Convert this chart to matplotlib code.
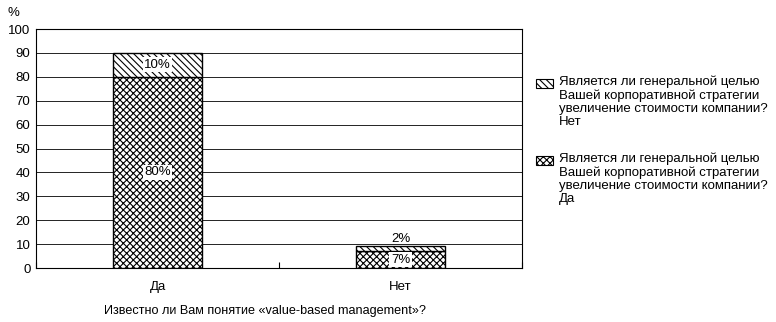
import matplotlib.pyplot as plt
import matplotlib as mpl
from matplotlib.patches import Rectangle

mpl.rcParams['font.family'] = ['Liberation Sans', 'DejaVu Sans']
mpl.rcParams['hatch.linewidth'] = 0.8

categories = ['Да', 'Нет']
yes_values = [80, 7]
no_values = [10, 2]
yes_labels = ['80%', '7%']
no_labels = ['10%', '2%']
series_q = 'Является ли генеральной целью\nВашей корпоративной стратегии\nувеличение стоимости компании?\n'
xlabel = 'Известно ли Вам понятие «value-based management»?'

fs = 9.5
fig = plt.figure(figsize=(7.76, 3.22), dpi=100)
ax = fig.add_axes([0.0464, 0.1677, 0.6263, 0.7422])

x = list(range(len(categories)))
w = 0.37
ax.bar(x, yes_values, w, color='white', edgecolor='black', hatch='xxxxx',
       linewidth=1.0, zorder=3)
ax.bar(x, no_values, w, bottom=yes_values, color='white', edgecolor='black',
       hatch='\\\\\\\\\\', linewidth=1.0, zorder=3)

box = dict(facecolor='white', edgecolor='none', pad=1.0)
for i in x:
    ax.text(i, yes_values[i] / 2, yes_labels[i], ha='center', va='center',
            fontsize=fs, bbox=box, zorder=4)
    if no_values[i] >= 5:
        ax.text(i, yes_values[i] + no_values[i] / 2, no_labels[i], ha='center',
                va='center', fontsize=fs, bbox=box, zorder=4)
    else:
        ax.text(i, yes_values[i] + no_values[i] + 3.3, no_labels[i], ha='center',
                va='center', fontsize=fs, zorder=4)

ax.set_xlim(-0.5, 1.5)
ax.set_ylim(0, 100)
ax.set_yticks(range(0, 101, 10))
ax.yaxis.grid(True, color='black', linewidth=0.6, zorder=0)
ax.set_axisbelow(True)
ax.set_xticks([-0.5, 0.5, 1.5])
ax.set_xticklabels([])
ax.tick_params(axis='x', direction='in', length=4, width=0.8)
ax.set_xticks(x, minor=True)
ax.set_xticklabels(categories, minor=True, fontsize=fs)
ax.tick_params(axis='x', which='minor', length=0, pad=9)
ax.tick_params(axis='y', length=0, labelsize=fs, pad=4)
for s in ax.spines.values():
    s.set_linewidth(0.8)

ax.text(-0.058, 1.04, '%', transform=ax.transAxes, fontsize=fs, ha='left', va='bottom')
fig.text(0.342, 0.035, xlabel, ha='center', va='center', fontsize=9.1)

# legend, drawn by hand so the swatch sits at the first text line
legend_items = [(series_q + 'Нет', '\\\\\\\\\\'), (series_q + 'Да', 'xxxxx')]
W, H = 776, 322
for k, (lab, hatch) in enumerate(legend_items):
    top = 76 + k * 77
    fig.patches.append(Rectangle((536 / W, 1 - (top + 12) / H), 17 / W, 9 / H,
                                 transform=fig.transFigure, facecolor='white',
                                 edgecolor='black', hatch=hatch, linewidth=0.8))
    fig.text(559 / W, 1 - top / H, lab, ha='left', va='top', fontsize=9.55,
             linespacing=1.1)

fig.savefig('out.png', dpi=100)
